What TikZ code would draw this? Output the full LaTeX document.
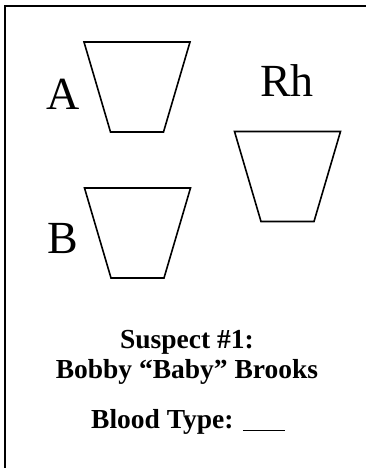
\documentclass[tikz,border=0pt]{standalone}
\usepackage{fontspec}
\setmainfont{Liberation Serif}
\begin{document}
\begin{tikzpicture}[x=1pt,y=-1pt,
  cupline/.style={draw, line width=1.6pt, line join=miter},
  letter/.style={font=\fontsize{46}{46}\selectfont, anchor=base, inner sep=0pt},
  caption/.style={font=\bfseries\fontsize{27.5}{30}\selectfont, anchor=base, inner sep=0pt}]
  \useasboundingbox (0,0) rectangle (366,468);
  % frame, only top and left edges show
  \draw[line width=1.8pt] (5,468) -- (5,6) -- (366,6);
  % the three cups
  \foreach \name/\cx/\cy in {cupA/137/87, cupB/137.5/233, cupRh/287.5/176.5} {
    \coordinate (\name) at (\cx,\cy);
    \draw[cupline, shift={(\name)}] (-53,-45) -- (53,-45) -- (26.5,45) -- (-26.5,45) -- cycle;
  }
  \node[letter] (labA) at (63,110) {A};
  \node[letter] (labB) at (63,253) {B};
  \node[letter] (labRh) at (287,97) {Rh};
  % card text
  \node[caption] (suspect) at (187,348) {Suspect \#1:};
  \node[caption] (name) at (187,378) {Bobby “Baby” Brooks};
  \node[caption] (type) at (188,428) {Blood Type: \rule[-3pt]{42pt}{1pt}};
\end{tikzpicture}
\end{document}
